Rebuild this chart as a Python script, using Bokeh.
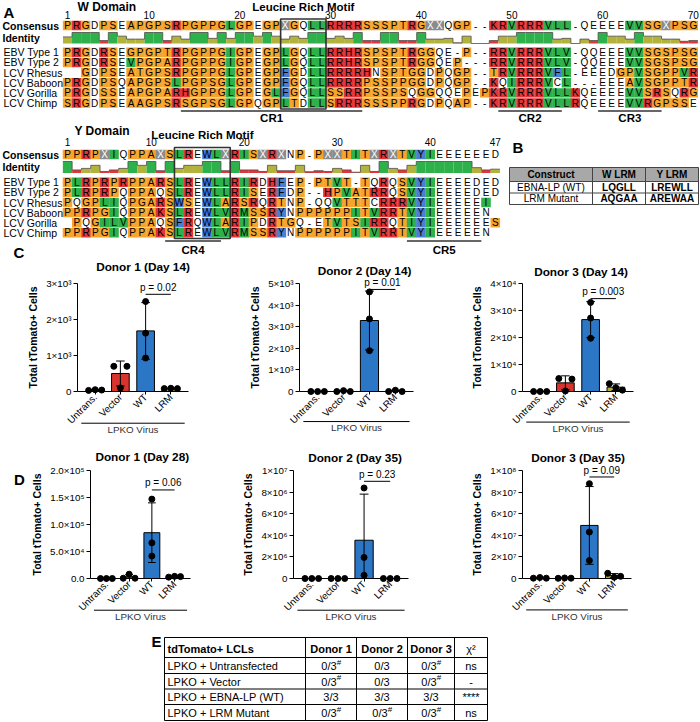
import math
from bokeh.plotting import figure
from bokeh.layouts import column, row
from bokeh.models import Range1d, FixedTicker
from bokeh.embed import file_html
from bokeh.resources import INLINE
from bokeh.core.properties import value

FONT = "Liberation Sans"

# ---------------- Panel A data ----------------
seq_names = ["EBV Type 1", "EBV Type 2", "LCV Rhesus", "LCV Baboon", "LCV Gorilla", "LCV Chimp"]

w_numbers = [1, 10, 20, 30, 40, 50, 60, 70]
w_consensus = "PRGDPSEAPGPSRPGPPGL" "GPEGPXGQLLRRRRSSSPTRGXXQGP" "--KRVRRRVLL-QEEEEVVSGXPSG"
w_seqs = [
    "PRGDRSEGPGPTRPGPPGI" "GPEGPLGQLLRRHRSPSPTRGGQE-P" "--RRVRRRVLV-QQEEEVVSGSPSG",
    "PRGDRSEVPGPARPGPPGI" "GPEGPLGQLLRRHRSPSPTRGGQEP-" "--RRVRRRVLV-QQEEEVVSGSPSG",
    "  GDPSEATGPSRPGPPGL" "GPEGPFGDLLRRRRHNSPTGGDPQGP" "--TRVRRRVFL-EEEDGPVSGPPVR",
    "PRGDPSQAPGPSLPGPSGL" "GPEGPFGQLLRRRRPSSPPGGDPQGP" "--KQIRRRVCL---EEEAVSGPPTR",
    "PRGDSSEAPGPARHGPPGL" "GPEGLFGQLLSSRRPSSPSQGGQQEP" "EPKRVRRRVLLKQEEEEVVSRSQRG",
    "SRGDPSEAAGPSRSGPSGL" "GPQGPLTDLLSRRRSSSPPRGDPQAP" "--KRVRRRVLLRQEEEEVVRGPSSE",
]
w_motif = (25, 29)
w_regions = [("CR1", 14, 33), ("CR2", 49, 55), ("CR3", 60, 66)]

y_numbers = [1, 10, 20, 30, 40, 47]
y_consensus = "PPRPXIQPPAXSLREWLXRI" "SXRXNP-PXXTITXRXTVYI" "EEEEEED"
y_seqs = [
    "PLRPRPRPPARSLREWLLRI" "RDHFEP-PTVT-TQRQSVYI" "EEEEDED",
    "PLRPRPQPPAQSLREWLLRI" "SERFDP--HPVATRRQSVYI" "EEEEDED",
    "PQGPLIQPGARSWSEWLARS" "RQRTNP-QQVTTTCRRRVYI" "EEEEEI ",
    "PPRPGIQPPAKSLREWLVRM" "SSRYNPPPPPPITVRRTVYI" "EEEEEN ",
    " PQGILVPPAQSFRQWLARI" "PDRTGQ-ETVTSIRRQTIYI" "EEEEEES",
    "PPRPGIQPPAKSLREWLVRM" "SSRYNPPPPPPITVRRTVYI" "EEEEEN ",
]
y_motif = (13, 18)
y_regions = [("CR4", 12, 17), ("CR5", 38, 45)]

# ---------------- Panel B data ----------------
b_header = ["Construct", "W LRM", "Y LRM"]
b_rows = [["EBNA-LP (WT)", "LQGLL", "LREWLL"], ["LRM Mutant", "AQGAA", "AREWAA"]]

# ---------------- Panels C / D data ----------------
cats = ["Untrans.", "Vector", "WT", "LRM"]
bar_colors = ["#9e9e9e", "#d7342d", "#2b76c5", "#b4ad3c"]
axis_title = "Total tTomato+ Cells"
group_title = "LPKO Virus"

c_titles = ["Donor 1 (Day 14)", "Donor 2 (Day 14)", "Donor 3 (Day 14)"]
c1_vals = [[30, 50, 40], [700, 100, 700], [2500, 1620, 930], [80, 90, 80]]
c2_vals = [[0, 0, 0], [0, 40, 0], [4610, 3360, 1890], [0, 60, 0]]
c3_vals = [[0, 0, 0], [4800, 200, 4600], [33000, 27200, 19700], [2900, 1400, 500]]
c_pvals = ["p = 0.02", "p = 0.01", "p = 0.003"]
c1_ticks = [0, 1000, 2000, 3000]
c1_labels = ["0", "1×10³", "2×10³", "3×10³"]
c2_ticks = [0, 1000, 2000, 3000, 4000, 5000]
c2_labels = ["0", "1×10³", "2×10³", "3×10³", "4×10³", "5×10³"]
c3_ticks = [0, 10000, 20000, 30000, 40000]
c3_labels = ["0", "1×10⁴", "2×10⁴", "3×10⁴", "4×10⁴"]

d_titles = ["Donor 1 (Day 28)", "Donor 2 (Day 35)", "Donor 3 (Day 35)"]
d1_vals = [[0, 0, 0], [500, 8000, 500], [147000, 66000, 41500], [2500, 4000, 3500]]
d2_vals = [[0, 0, 0], [0, 0, 0], [8380000, 1950000, 300000], [0, 0, 0]]
d3_vals = [[300000, 900000, 300000], [200000, 500000, 300000],
           [87800000, 43000000, 16600000], [4800000, 1200000, 2000000]]
d_pvals = ["p = 0.06", "p = 0.23", "p = 0.09"]
d1_ticks = [0, 50000, 100000, 150000, 200000]
d1_labels = ["0.0", "5.0×10⁴", "1.0×10⁵", "1.5×10⁵", "2.0×10⁵"]
d2_ticks = [0, 2000000, 4000000, 6000000, 8000000, 10000000]
d2_labels = ["0", "2×10⁶", "4×10⁶", "6×10⁶", "8×10⁶", "1×10⁷"]
d3_ticks = [0, 20000000, 40000000, 60000000, 80000000, 100000000]
d3_labels = ["0", "2×10⁷", "4×10⁷", "6×10⁷", "8×10⁷", "1×10⁸"]

# ---------------- Panel E data ----------------
e_header = ["tdTomato+ LCLs", "Donor 1", "Donor 2", "Donor 3", "χ²"]
e_rows = ["LPKO + Untransfected", "LPKO + Vector", "LPKO + EBNA-LP (WT)", "LPKO + LRM Mutant"]
e_d1 = ["0/3#", "0/3#", "3/3", "0/3#"]
e_d2 = ["0/3", "0/3", "3/3", "0/3#"]
e_d3 = ["0/3#", "0/3#", "3/3", "0/3#"]
e_chi = ["ns", "-", "****", "ns"]

# ---------------- styling ----------------
RES_COL = {}
for c in "PGSTA":
    RES_COL[c] = "#f6a42d"
for c in "RKH":
    RES_COL[c] = "#e2353a"
for c in "LIVM":
    RES_COL[c] = "#2eb14b"
for c in "FWY":
    RES_COL[c] = "#4a7ed3"
RES_COL["X"] = "#8b8b8b"
ID_GREEN, ID_OLIVE, ID_RED = "#2eb14b", "#b3b23c", "#e2353a"


def fsz(px):
    return f"{px:.1f}px"


def blank(width, height, x0, x1, y0, y1):
    p = figure(width=width, height=height, x_range=Range1d(x0, x1), y_range=Range1d(y1, y0),
               toolbar_location=None, output_backend="svg", x_axis_type=None, y_axis_type=None,
               min_border=0)
    p.outline_line_color = None
    return p


def txt(p, x, y, t, size, bold=False, align="left", baseline="middle", color="black",
        level="glyph"):
    p.text(x=[x], y=[y], text=[t], text_font=value(FONT), text_font_size=value(fsz(size)),
           text_font_style="bold" if bold else "normal", text_align=align,
           text_baseline=baseline, text_color=color, level=level)


def identity(seqs, i):
    col = [s[i] for s in seqs if s[i] != ' ']
    same = tot = 0
    for a in range(len(col)):
        for b in range(a + 1, len(col)):
            if col[a] == '-' and col[b] == '-':
                continue
            tot += 1
            if col[a] == col[b]:
                same += 1
    return same / tot if tot else 0.0


def add_alignment(p, x1, cw, cons, seqs, y_cons, id_top, id_bot, y_rows, nums, num_y,
                  motif, box_y, regions, cr_y, crl_y, label_x):
    n = len(cons)
    xs = [x1 + i * cw for i in range(n)]
    cx, cy, cc, tx, ty, tt, tc = [], [], [], [], [], [], []
    for ry, s in [(y_cons, cons)] + list(zip(y_rows, seqs)):
        for i, ch in enumerate(s):
            if ch in RES_COL:
                cx.append(xs[i]); cy.append(ry); cc.append(RES_COL[ch])
            if ch != ' ':
                tx.append(xs[i]); ty.append(ry); tt.append(ch)
                tc.append("white" if ch == "X" else "black")
    p.rect(x=cx, y=cy, width=cw * 1.03, height=9.4, fill_color=cc, line_color=None)
    p.text(x=tx, y=ty, text=tt, text_color=tc, text_align="center", text_baseline="middle",
           text_font=value(FONT), text_font_size=value(fsz(10)))
    ql, qr, qt, qb, qc, lx, ly = [], [], [], [], [], [], []
    for i in range(n):
        f = identity(seqs, i)
        top = id_bot - f * (id_bot - id_top)
        lx += [xs[i] - cw / 2, xs[i] + cw / 2]
        ly += [top, top]
        if f <= 0:
            continue
        ql.append(xs[i] - cw / 2); qr.append(xs[i] + cw / 2); qt.append(top); qb.append(id_bot)
        qc.append(ID_GREEN if f >= 0.999 else (ID_OLIVE if f >= 0.3 else ID_RED))
    p.quad(left=ql, right=qr, top=qt, bottom=qb, fill_color=qc, line_color=None)
    p.line(lx, ly, line_color="#4d4d4d", line_width=0.8)
    p.text(x=[xs[k - 1] for k in nums], y=[num_y] * len(nums), text=[str(k) for k in nums],
           text_align="center", text_baseline="middle", text_font=value(FONT),
           text_font_size=value(fsz(10)))
    txt(p, label_x, y_cons, "Consensus", 10.5, bold=True)
    txt(p, label_x, (id_top + id_bot) / 2, "Identity", 10.5, bold=True)
    for ry, nm in zip(y_rows, seq_names):
        txt(p, label_x + 1, ry, nm, 10.5)
    bx0 = xs[motif[0] - 1] - cw / 2
    bx1 = xs[motif[1] - 1] + cw / 2
    p.quad(left=[bx0], right=[bx1], top=[box_y[0]], bottom=[box_y[1]], fill_color=None,
           line_color="#333333", line_width=1.6)
    txt(p, (bx0 + bx1) / 2, box_y[0] - 12.5, "Leucine Rich Motif", 11.5, bold=True, align="center")
    for name, r0, r1 in regions:
        a = xs[r0 - 1] - cw / 2
        b = xs[r1 - 1] + cw / 2
        p.segment(x0=[a], y0=[cr_y], x1=[b], y1=[cr_y], line_color="#333333", line_width=1.3)
        txt(p, (a + b) / 2, crl_y, name, 11.5, bold=True, align="center")


# ---------------- Figure A + B ----------------
pa = blank(700, 258, 0, 700, 0, 258)
txt(pa, 3, 12, "A", 15, bold=True)
txt(pa, 77, 6.5, "W Domain", 12, bold=True)
add_alignment(pa, 67, 9.07, w_consensus, w_seqs, 25, 32, 43,
              [51.8 + 10.15 * k for k in range(6)], w_numbers, 14.5,
              w_motif, (18.5, 108.5), w_regions, 110.5, 117.5, 2)
txt(pa, 74, 130, "Y Domain", 12, bold=True)
add_alignment(pa, 67, 9.3, y_consensus, y_seqs, 154, 161, 172.5,
              [181.8 + 10.1 * k for k in range(6)], y_numbers, 141.5,
              y_motif, (147, 238), y_regions, 240.5, 249, 2)
txt(pa, 512, 147, "B", 15, bold=True)
bcols = [509, 592, 645, 698]
brows = [167, 181, 192.5, 204]
pa.quad(left=[bcols[0]], right=[bcols[-1]], top=[brows[0]], bottom=[brows[1]],
        fill_color="#a8a8a8", line_color=None)
pa.segment(x0=[bcols[0]] * len(brows), y0=brows, x1=[bcols[-1]] * len(brows), y1=brows,
           line_color="#444444", line_width=1)
pa.segment(x0=bcols, y0=[brows[0]] * len(bcols), x1=bcols, y1=[brows[-1]] * len(bcols),
           line_color="#444444", line_width=1)
for j, h in enumerate(b_header):
    txt(pa, (bcols[j] + bcols[j + 1]) / 2, (brows[0] + brows[1]) / 2, h, 10, bold=True, align="center")
for i, r in enumerate(b_rows):
    yc = (brows[i + 1] + brows[i + 2]) / 2
    for j, v in enumerate(r):
        txt(pa, (bcols[j] + bcols[j + 1]) / 2, yc, v, 10, bold=(j > 0), align="center")
txt(pa, 13, 252, "C", 15, bold=True)


# ---------------- bar charts ----------------
def spread(v, thr, w=0.26):
    order = sorted(range(len(v)), key=lambda k: v[k])
    clusters = [[order[0]]]
    for a, b in zip(order, order[1:]):
        if v[b] - v[a] < thr:
            clusters[-1].append(b)
        else:
            clusters.append([b])
    off = [0.0] * len(v)
    for cl in clusters:
        if len(cl) > 1:
            cl = sorted(cl)
            for j, k in enumerate(cl):
                off[k] = -w + 2 * w * j / (len(cl) - 1)
    return off


def chart(title, vals, ticks, tick_labels, ptext, pfrac, width, height, left, right, top, bottom,
          title_up, title_dx):
    ymax = ticks[-1]
    x0, x1 = -0.7, 3.7
    fw = width - left - right
    fh = height - top - bottom
    dx = lambda px: px * (x1 - x0) / fw
    dy = lambda px: px * ymax / fh
    p = figure(width=width, height=height, x_range=Range1d(x0, x1), y_range=Range1d(0, ymax),
               toolbar_location=None, output_backend="svg",
               min_border_left=left, min_border_right=right, min_border_top=top,
               min_border_bottom=bottom)
    p.grid.visible = False
    p.outline_line_color = None
    xi = list(range(len(cats)))
    means = [sum(v) / len(v) for v in vals]
    sds = [(sum((a - m) ** 2 for a in v) / (len(v) - 1)) ** 0.5 for v, m in zip(vals, means)]
    p.vbar(x=xi, top=means, bottom=0, width=0.7, fill_color=bar_colors, line_color="black",
           line_width=1)
    hi = [m + s for m, s in zip(means, sds)]
    lo = [max(0, m - s) for m, s in zip(means, sds)]
    p.segment(x0=xi, y0=lo, x1=xi, y1=hi, line_color="black", line_width=1, level="overlay")
    p.segment(x0=[x - 0.17 for x in xi], y0=hi, x1=[x + 0.17 for x in xi], y1=hi,
              line_color="black", line_width=1, level="overlay")
    lx = [x for x, m, s in zip(xi, means, sds) if m - s > 0]
    ly = [m - s for m, s in zip(means, sds) if m - s > 0]
    p.segment(x0=[x - 0.17 for x in lx], y0=ly, x1=[x + 0.17 for x in lx], y1=ly,
              line_color="black", line_width=1, level="overlay")
    px, py = [], []
    for i, v in enumerate(vals):
        offs = spread(v, 0.06 * ymax)
        for o, a in zip(offs, v):
            px.append(i + o); py.append(a)
    p.scatter(px, py, size=6, color="black", level="overlay")
    yb = pfrac * ymax
    p.segment(x0=[2], y0=[yb], x1=[3], y1=[yb], line_color="black", line_width=1, level="overlay")
    txt(p, 2.5, yb + dy(1.5), ptext, 10, align="center", baseline="bottom", level="overlay")
    txt(p, x0 + dx(fw / 2 + title_dx), ymax + dy(title_up), title, 11.8, bold=True,
        align="center", level="overlay")
    p.segment(x0=[-0.55], y0=[-dy(32)], x1=[3.55], y1=[-dy(32)], line_color="black",
              line_width=1, level="overlay")
    txt(p, 1.5, -dy(38.5), group_title, 9.8, align="center", color="#333333", level="overlay")
    ya = p.yaxis[0]
    ya.ticker = FixedTicker(ticks=ticks)
    ya.major_label_overrides = {t: l for t, l in zip(ticks, tick_labels)}
    ya.bounds = (0, ymax)
    ya.axis_label = axis_title
    ya.axis_label_text_font = FONT
    ya.axis_label_text_font_size = fsz(10.5)
    ya.axis_label_text_font_style = "bold"
    ya.axis_label_text_color = "black"
    ya.axis_label_standoff = 4
    ya.major_label_text_font = FONT
    ya.major_label_text_font_size = fsz(9.8)
    ya.major_label_text_color = "black"
    ya.major_label_standoff = 2
    ya.major_tick_out = 4
    ya.major_tick_in = 0
    ya.minor_tick_out = 0
    ya.minor_tick_in = 0
    ya.axis_line_color = "black"
    ya.major_tick_line_color = "black"
    xa = p.xaxis[0]
    xa.ticker = FixedTicker(ticks=xi)
    xa.major_label_overrides = {i: c for i, c in enumerate(cats)}
    xa.major_label_orientation = math.pi / 4
    xa.major_label_text_font = FONT
    xa.major_label_text_font_size = fsz(9.8)
    xa.major_label_text_color = "black"
    xa.major_label_standoff = 1
    xa.major_tick_out = 3
    xa.major_tick_in = 0
    xa.minor_tick_out = 0
    xa.minor_tick_in = 0
    xa.axis_line_color = "black"
    xa.major_tick_line_color = "black"
    return p


c1 = chart(c_titles[0], c1_vals, c1_ticks, c1_labels, c_pvals[0], 0.90, 233, 182, 77, 45, 25, 48, 17, 10)
c2 = chart(c_titles[1], c2_vals, c2_ticks, c2_labels, c_pvals[1], 0.945, 234, 182, 66, 54, 21, 46, 13, 8)
c3 = chart(c_titles[2], c3_vals, c3_ticks, c3_labels, c_pvals[2], 0.86, 233, 182, 55, 67, 20, 49, 12, 3)

dlab = blank(28, 188, 0, 28, 440, 628)
txt(dlab, 19, 455, "D", 15, bold=True, align="center")
d1 = chart(d_titles[0], d1_vals, d1_ticks, d1_labels, d_pvals[0], 0.82, 205, 188, 49, 43, 29, 50, 14, 2)
d2 = chart(d_titles[1], d2_vals, d2_ticks, d2_labels, d_pvals[1], 0.90, 234, 188, 60, 59, 30, 49, 13, 4)
d3 = chart(d_titles[2], d3_vals, d3_ticks, d3_labels, d_pvals[2], 0.94, 233, 188, 55, 69, 28, 50, 13, 1)

# ---------------- Figure E ----------------
pe = blank(700, 93, 0, 700, 628, 721)
txt(pe, 151, 641, "E", 15, bold=True)
ecols = [164, 305, 356, 407, 454, 487]
erows = [637, 657, 673, 688.5, 704, 720]
pe.segment(x0=[ecols[0]] * len(erows), y0=erows, x1=[ecols[-1]] * len(erows), y1=erows,
           line_color="black", line_width=1)
pe.segment(x0=ecols, y0=[erows[0]] * len(ecols), x1=ecols, y1=[erows[-1]] * len(ecols),
           line_color="black", line_width=1)
hy = (erows[0] + erows[1]) / 2 + 1
txt(pe, ecols[0] + 3, hy, e_header[0], 11, bold=True)
for j in range(1, 5):
    txt(pe, (ecols[j] + ecols[j + 1]) / 2, hy, e_header[j], 11, bold=(j < 4), align="center")
for i in range(4):
    yc = (erows[i + 1] + erows[i + 2]) / 2 + 0.5
    txt(pe, ecols[0] + 3, yc, e_rows[i], 11)
    for j, col in enumerate([e_d1, e_d2, e_d3]):
        v = col[i]
        cxm = (ecols[j + 1] + ecols[j + 2]) / 2
        if v.endswith("#"):
            txt(pe, cxm - 2, yc, v[:-1], 11, align="center")
            txt(pe, cxm + 5.8, yc - 4, "#", 8, align="left")
        else:
            txt(pe, cxm, yc, v, 11, align="center")
    txt(pe, (ecols[4] + ecols[5]) / 2, yc, e_chi[i], 11, align="center")

layout = column(pa, row(c1, c2, c3), row(dlab, d1, d2, d3), pe)
open("out.html", "w").write(file_html(layout, INLINE))
